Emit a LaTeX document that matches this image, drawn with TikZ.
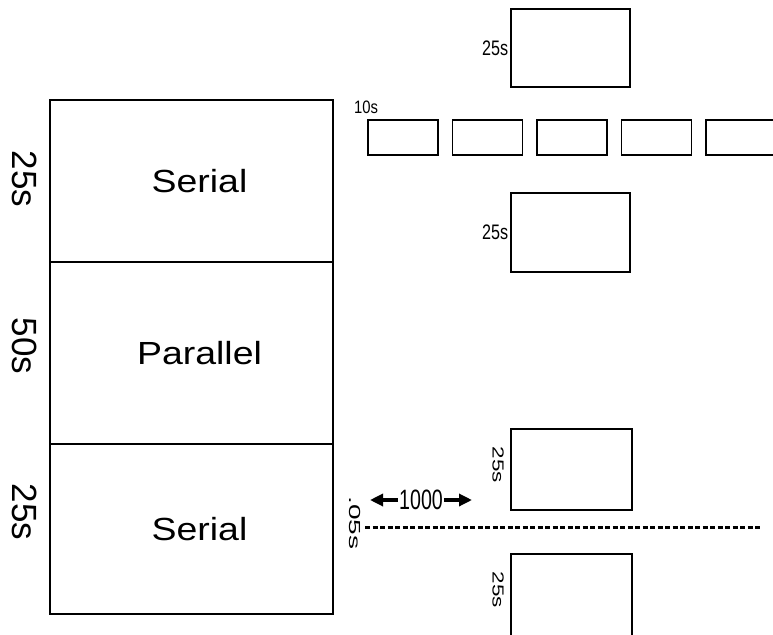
\documentclass[tikz,border=0pt]{standalone}
\usepackage{graphicx}
\usepackage{fontspec}
\setmainfont{Liberation Sans}
\usetikzlibrary{arrows.meta,positioning}
\newcommand{\widetext}[2]{\scalebox{#1}[1]{#2}}
\tikzset{
  stagebox/.style={draw, line width=2pt, minimum width=283pt, inner sep=0pt,
                   font=\fontsize{32}{32}\selectfont},
  taskbox/.style={draw, line width=1.6pt, inner sep=0pt},
  sidelabel/.style={font=\fontsize{35}{35}\selectfont, rotate=-90, inner sep=0pt},
  timelabel/.style={font=\fontsize{21}{21}\selectfont, xscale=0.77, inner sep=1pt},
  vtimelabel/.style={font=\fontsize{16}{16}\selectfont, rotate=-90, inner sep=0pt},
  gapedge/.style={-{Triangle[length=13pt,width=12pt]}, line width=3.2pt},
  cutline/.style={line width=3pt, dash pattern=on 5pt off 2.5pt},
}
\begin{document}
\begin{tikzpicture}[x=1pt,y=-1pt]
  \useasboundingbox (0,0) rectangle (773,634);
  \clip (0,0) rectangle (773,634);
  % phases of the run
  \node[stagebox, minimum height=162pt] (ser1) at (191.5,181) {\hspace*{16pt}\widetext{1.17}{Serial}};
  \node[stagebox, minimum height=182pt, below=-2pt of ser1] (par) {\hspace*{16pt}\widetext{1.17}{Parallel}};
  \node[stagebox, minimum height=170pt, below=-2pt of par] (ser2) {\hspace*{16pt}\widetext{1.17}{Serial}};
  \node[sidelabel] (t1) at (25,179) {25s};
  \node[sidelabel] (t2) at (25,346) {50s};
  \node[sidelabel] (t3) at (25,512) {25s};
  % serial, then many short parallel jobs, then serial
  \node[taskbox, minimum width=119pt, minimum height=78pt] (top) at (570.5,48) {};
  \node[timelabel, left=1pt of top] (ltop) {25s};
  \node[timelabel, font=\fontsize{18}{18}\selectfont, xscale=1.07] (l10) at (366,107) {10s};
  \foreach \i in {0,...,4}
    \node[taskbox, minimum width=70pt, minimum height=35pt] (job\i) at (403+84.5*\i,137.5) {};
  \node[taskbox, minimum width=119pt, minimum height=79pt] (mid) at (570.5,232.5) {};
  \node[timelabel, left=1pt of mid] (lmid) {25s};
  % with 1000 processors
  \node[taskbox, minimum width=121pt, minimum height=81pt] (low1) at (571.5,469.5) {};
  \node[vtimelabel] (llow1) at (498,465) {\widetext{1.4}{25s}};
  \node[taskbox, minimum width=121pt, minimum height=84pt] (low2) at (571.5,596) {};
  \node[vtimelabel] (llow2) at (498,590) {\widetext{1.4}{25s}};
  \node[vtimelabel] (l05) at (355,523) {\widetext{1.75}{.05s}};
  \coordinate (cutA) at (365,527);
  \coordinate (cutB) at (760,527);
  \draw[cutline] (cutA) -- (cutB);
  \node[timelabel, font=\fontsize{28}{28}\selectfont, xscale=0.91, inner sep=2pt] (procs) at (421,500) {1000};
  \coordinate (gapL) at (370,500);
  \coordinate (gapR) at (472,500);
  \draw[gapedge] (procs.west) -- (gapL);
  \draw[gapedge] (procs.east) -- (gapR);
\end{tikzpicture}
\end{document}
